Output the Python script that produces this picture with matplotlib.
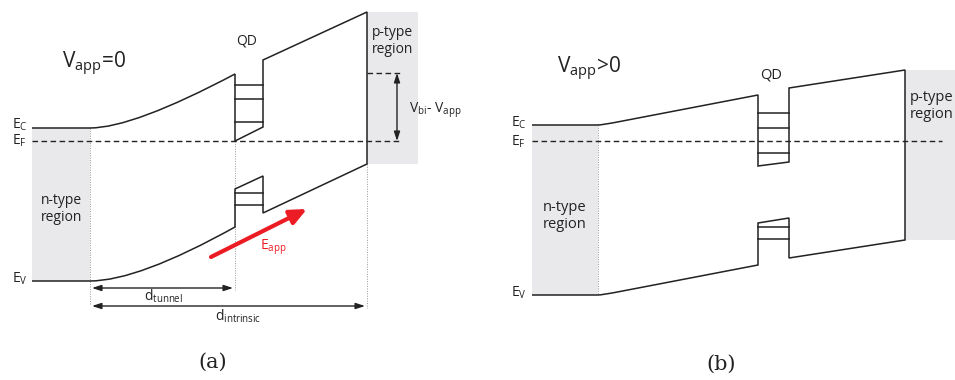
import matplotlib.pyplot as plt
import matplotlib.patches as mpatches
from matplotlib.path import Path

plt.rcParams['font.family'] = ['Open Sans', 'DejaVu Sans']
plt.rcParams['mathtext.fontset'] = 'custom'
plt.rcParams['mathtext.rm'] = 'Open Sans'
plt.rcParams['mathtext.it'] = 'Open Sans'

############################################
#                  DATA                    #
############################################

# panel (a): Vapp = 0, band outline (pixel coords of the drawing)
# 'C' marks a quadratic bezier (control point, end point)
a_band = [('M', 32, 128), ('L', 90, 128), ('C', 133, 128), ('E', 235, 74),
          ('L', 235, 141), ('L', 263, 127), ('L', 263, 60), ('L', 367, 12),
          ('L', 367, 164), ('L', 263, 213), ('L', 263, 176), ('L', 235, 189),
          ('L', 235, 227), ('C', 138, 281), ('E', 90, 281), ('L', 32, 281)]
a_qd_levels = [85, 99, 122, 193, 205]
a_qd_x = [235, 263]
a_ef = 141
a_ef_x = [32, 400]
a_vbi_top = 73
a_vbi_x = 397
a_nreg = [32, 90, 128, 281]      # x0, x1, y0, y1
a_preg = [367, 418, 12, 164]
a_dotted_x = [90, 235, 367]
a_dotted_y0 = [128, 141, 164]
a_dotted_y1 = [305, 290, 308]
a_dtunnel = [92, 233, 288]
a_dintr = [92, 365, 306]
a_efield = [211, 257, 307, 209]

# panel (b): Vapp > 0
b_band = [('M', 532, 125), ('L', 598, 125), ('C', 602, 125), ('E', 620, 121.5),
          ('L', 758, 95), ('L', 758, 166), ('L', 789, 162), ('L', 789, 88),
          ('L', 905, 70), ('L', 905, 240), ('L', 789, 258), ('L', 789, 218),
          ('L', 758, 223), ('L', 758, 265), ('L', 620, 291.5), ('C', 602, 295),
          ('E', 598, 295), ('L', 532, 295)]
b_qd_levels = [113, 128, 153, 227, 239]
b_qd_x = [758, 789]
b_ef = 141
b_ef_x = [532, 942]
b_nreg = [532, 598, 125, 295]
b_preg = [905, 955, 70, 240]
b_dotted_x = [598]
b_dotted_y0 = [125]
b_dotted_y1 = [295]

shade = '#e9e9eb'
ink = '#222222'
red = '#ec1c24'

############################################
#                PLOTTING                  #
############################################

fig = plt.figure(figsize=(9.55, 3.8), dpi=100)
ax = fig.add_axes([0, 0, 1, 1])
ax.set_xlim(0, 955)
ax.set_ylim(380, 0)
ax.axis('off')

codes_map = {'M': Path.MOVETO, 'L': Path.LINETO, 'C': Path.CURVE3, 'E': Path.CURVE3}

def band(outline):
    verts = [(x, y) for _, x, y in outline]
    codes = [codes_map[c] for c, _, _ in outline]
    ax.add_patch(mpatches.PathPatch(Path(verts, codes), facecolor='none',
                                    edgecolor=ink, lw=1.1, zorder=3))

def region(r):
    ax.add_patch(mpatches.Rectangle((r[0], r[2]), r[1]-r[0], r[3]-r[2],
                                    facecolor=shade, edgecolor='none', zorder=0))

def dbl_arrow(x0, y0, x1, y1):
    ax.annotate('', xy=(x1, y1), xytext=(x0, y0),
                arrowprops=dict(arrowstyle='<|-|>,head_length=0.55,head_width=0.18',
                                color=ink, lw=1.0, shrinkA=0, shrinkB=0))

# ---- panel (a)
region(a_nreg)
region(a_preg)
for x, y0, y1 in zip(a_dotted_x, a_dotted_y0, a_dotted_y1):
    ax.plot([x, x], [y0, y1], color='#999999', lw=0.7, ls=(0, (1, 1.5)), zorder=1)
ax.plot(a_ef_x, [a_ef, a_ef], color=ink, lw=1.0, ls=(0, (4, 2.5)), zorder=2)
ax.plot([a_preg[0], a_ef_x[1]], [a_vbi_top, a_vbi_top], color=ink, lw=1.0, ls=(0, (4, 2.5)), zorder=2)
band(a_band)
for y in a_qd_levels:
    ax.plot(a_qd_x, [y, y], color=ink, lw=1.1, zorder=3)
dbl_arrow(a_vbi_x, a_vbi_top, a_vbi_x, a_ef)
dbl_arrow(a_dtunnel[0], a_dtunnel[2], a_dtunnel[1], a_dtunnel[2])
dbl_arrow(a_dintr[0], a_dintr[2], a_dintr[1], a_dintr[2])
ax.annotate('', xy=(a_efield[2], a_efield[3]), xytext=(a_efield[0], a_efield[1]),
            arrowprops=dict(arrowstyle='-|>,head_length=1.0,head_width=0.45',
                            color=red, lw=3.0, shrinkA=0, shrinkB=0))

ax.text(62, 68, r'V$_{\mathrm{app}}$=0', fontsize=15, ha='left', va='baseline', color=ink)
ax.text(247, 41, 'QD', fontsize=10, ha='center', va='center', color=ink)
ax.text(372, 41, 'p-type\nregion', fontsize=10, ha='left', va='center', color=ink, linespacing=1.15)
ax.text(41, 209, 'n-type\nregion', fontsize=10, ha='left', va='center', color=ink, linespacing=1.15)
ax.text(12, 125, r'E$_\mathrm{C}$', fontsize=10, ha='left', va='center', color=ink)
ax.text(12, 141, r'E$_\mathrm{F}$', fontsize=10, ha='left', va='center', color=ink)
ax.text(12, 279, r'E$_\mathrm{V}$', fontsize=10, ha='left', va='center', color=ink)
ax.text(409, 110, r'V$_\mathrm{bi}$- V$_\mathrm{app}$', fontsize=10, ha='left', va='center', color=ink)
ax.text(260, 247, r'E$_\mathrm{app}$', fontsize=10, ha='left', va='center', color=red)
ax.text(144, 296, r'd$_\mathrm{tunnel}$', fontsize=10, ha='left', va='center', color=ink)
ax.text(215, 316, r'd$_\mathrm{intrinsic}$', fontsize=10, ha='left', va='center', color=ink)
ax.text(213, 362, '(a)', fontsize=15, ha='center', va='center', family='DejaVu Serif', color=ink)

# ---- panel (b)
region(b_nreg)
region(b_preg)
for x, y0, y1 in zip(b_dotted_x, b_dotted_y0, b_dotted_y1):
    ax.plot([x, x], [y0, y1], color='#999999', lw=0.7, ls=(0, (1, 1.5)), zorder=1)
ax.plot(b_ef_x, [b_ef, b_ef], color=ink, lw=1.0, ls=(0, (4, 2.5)), zorder=2)
band(b_band)
for y in b_qd_levels:
    ax.plot(b_qd_x, [y, y], color=ink, lw=1.1, zorder=3)

ax.text(557, 73, r'V$_{\mathrm{app}}$>0', fontsize=15, ha='left', va='baseline', color=ink)
ax.text(771, 75, 'QD', fontsize=10.5, ha='center', va='center', color=ink)
ax.text(910, 106, 'p-type\nregion', fontsize=10.5, ha='left', va='center', color=ink, linespacing=1.2)
ax.text(543, 216, 'n-type\nregion', fontsize=10.5, ha='left', va='center', color=ink, linespacing=1.2)
ax.text(511, 123, r'E$_\mathrm{C}$', fontsize=10, ha='left', va='center', color=ink)
ax.text(511, 142, r'E$_\mathrm{F}$', fontsize=10, ha='left', va='center', color=ink)
ax.text(511, 293, r'E$_\mathrm{V}$', fontsize=10, ha='left', va='center', color=ink)
ax.text(721, 364, '(b)', fontsize=15, ha='center', va='center', family='DejaVu Serif', color=ink)

plt.savefig('out.png', dpi=100)
